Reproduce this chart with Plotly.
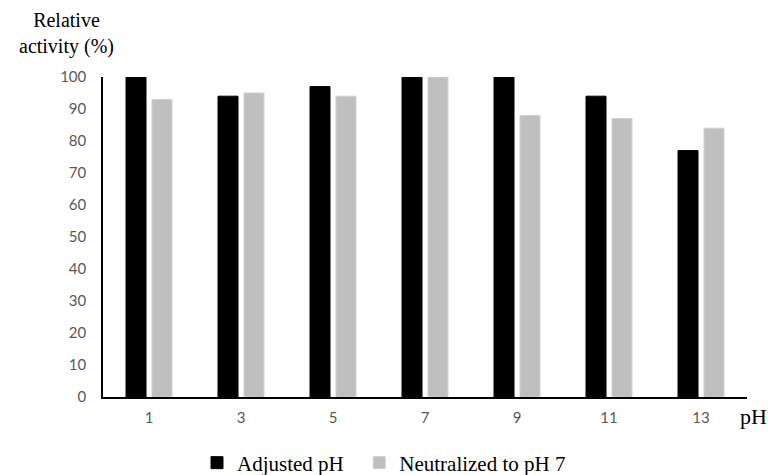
import plotly.graph_objects as go

ph_labels = ["1", "3", "5", "7", "9", "11", "13"]
adjusted = [100, 94, 97, 100, 100, 94, 77]
neutralized = [93, 95, 94, 100, 88, 87, 84]
y_ticks = [0, 10, 20, 30, 40, 50, 60, 70, 80, 90, 100]

serif = "Liberation Serif"
sans = "Lato"

L, R, T, B = 103, 21, 77, 78
W, H = 768, 475
plot_w = W - L - R
plot_h = H - T - B


def px_x(px):
    return (px - L) / plot_w


def px_y(py):
    return (H - B - py) / plot_h


fig = go.Figure()
fig.add_trace(go.Bar(x=ph_labels, y=adjusted, name="Adjusted pH\u00a0\u00a0",
                     marker=dict(color="#000000", line=dict(color="#000000", width=1))))
fig.add_trace(go.Bar(x=ph_labels, y=neutralized, name="Neutralized to pH 7",
                     marker=dict(color="#BFBFBF", line=dict(color="#D0D0D0", width=1))))

fig.update_layout(
    width=W, height=H,
    margin=dict(l=L, r=R, t=T, b=B, autoexpand=False),
    paper_bgcolor="white", plot_bgcolor="white",
    barmode="group", bargap=0.435, bargroupgap=0.23,
    font=dict(family=serif, size=19, color="#000000"),
    showlegend=True,
    legend=dict(orientation="h", x=px_x(197), xanchor="left", y=px_y(463), yanchor="middle",
                font=dict(family=serif, size=21, color="#000000"),
                itemwidth=30, traceorder="normal", bgcolor="rgba(0,0,0,0)"),
    xaxis=dict(type="category", showline=True, linecolor="#000000", linewidth=2,
               ticks="", showgrid=False, zeroline=False, ticklabelstandoff=6,
               tickfont=dict(family=sans, size=15, color="#595959")),
    yaxis=dict(range=[0, 100], tickvals=y_ticks, showline=True, linecolor="#000000",
               linewidth=1.5, ticks="", showgrid=False, zeroline=False,
               ticklabelstandoff=12,
               tickfont=dict(family=sans, size=15, color="#595959")),
    annotations=[
        dict(text="Relative<br>activity (%)", x=px_x(66), y=px_y(33), xref="paper", yref="paper",
             xanchor="center", yanchor="middle", showarrow=False,
             font=dict(family=serif, size=20, color="#000000")),
        dict(text="pH", x=px_x(753), y=px_y(416), xref="paper", yref="paper", xanchor="center",
             yanchor="middle", showarrow=False,
             font=dict(family=serif, size=22, color="#000000")),
    ],
)

fig.write_html("out.html")
